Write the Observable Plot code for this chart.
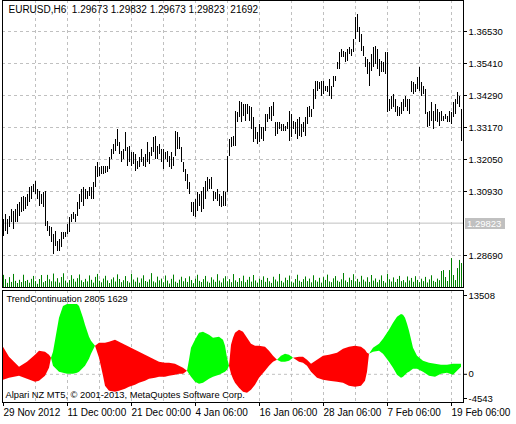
<!DOCTYPE html>
<html><head><meta charset="utf-8">
<script src="https://cdn.jsdelivr.net/npm/d3@7"></script>
<script src="https://cdn.jsdelivr.net/npm/@observablehq/plot@0.6"></script>
<style>
html,body{margin:0;padding:0;background:#fff;}
#wrap{position:relative;width:516px;height:424px;overflow:hidden;background:#fff;}
#wrap svg{position:absolute;left:0;}
#wrap svg text{white-space:pre;}
</style></head><body><div id="wrap"></div>
<script>
// ---------- data ----------
const titleText = "EURUSD,H6\u00a0 1.29673 1.29832 1.29673 1.29823\u00a0 21692";
const indName = "TrendContinuation 2805 1629";
const copyright = "Alpari NZ MT5, © 2001-2013, MetaQuotes Software Corp.";

const highs = [
1.29950,1.30125,1.29950,1.30055,1.30300,1.30230,1.30300,1.30475,1.30545,1.30720,
1.30755,1.30720,1.30825,1.31070,1.31105,1.31175,1.31280,1.31000,1.30930,1.30825,
1.30895,1.30930,1.29880,1.29705,1.29670,1.29425,1.29530,1.29180,1.29250,1.29495,
1.29495,1.29495,1.29775,1.30020,1.30125,1.30195,1.30125,1.30545,
1.30825,1.31000,1.31070,1.31000,1.30930,1.31070,1.31070,1.31245,1.31805,1.31945,
1.31770,1.31805,1.31805,1.31805,1.31805,1.32120,1.32400,1.32575,1.32750,1.33100,
1.32645,1.32330,1.32400,1.32995,1.32470,1.32505,1.32295,1.32295,1.32225,1.31980,
1.32120,1.32400,1.32120,1.32225,1.32645,1.32295,1.32470,1.32820,
1.32855,1.32505,1.32575,1.32400,1.32400,1.32295,1.32330,1.32155,1.32295,1.32120,
1.33030,1.32995,1.32820,1.32470,1.31945,1.31700,1.31525,1.31245,1.30545,1.30545,
1.30650,1.30895,1.30825,1.30930,1.31070,1.31280,1.31420,1.31350,1.31420,1.30930,
1.30895,1.31000,1.30825,1.30755,1.30930,1.30895,1.32155,1.32750,
1.32820,1.32855,1.33730,1.33695,1.34080,1.34045,1.33975,1.33975,1.33975,1.33905,
1.33870,1.33520,1.33170,1.32995,1.33275,1.33170,1.33170,1.33625,1.33625,1.33870,
1.33905,1.34045,1.33345,1.33345,1.33345,1.33275,1.33275,1.33205,1.33345,1.33730,
1.33625,1.33380,1.33345,1.33450,1.33520,1.33275,1.33345,1.33520,
1.33870,1.33905,1.33800,1.34500,1.34780,1.34780,1.34745,1.34780,1.34780,1.34605,
1.34605,1.34850,1.34605,1.34955,1.34955,1.35445,1.35795,1.35900,1.35830,1.35795,
1.35900,1.35970,1.35900,1.36250,1.37020,1.37125,1.36670,1.36425,1.36005,1.35620,
1.35550,1.35445,1.35725,1.35970,1.36005,1.35900,1.35550,1.35480,
1.35445,1.35795,1.35795,1.34150,1.34255,1.34325,1.34150,1.33905,1.33870,1.34045,
1.34150,1.34255,1.34150,1.34150,1.34780,1.34745,1.34675,1.34920,1.35270,1.34745,
1.34605,1.34500,1.33695,1.33730,1.34045,1.33730,1.33975,1.33800,1.33695,1.33730,
1.33555,1.33625,1.33555,1.33730,1.33695,1.34045,1.34150,1.34395,1.34255,1.33800];

const lows = [
1.29355,1.29530,1.29425,1.29670,1.29845,1.29600,1.29845,1.29845,1.30055,1.30195,
1.30230,1.30300,1.30405,1.30545,1.30650,1.30895,1.30825,1.30650,1.30405,1.30475,
1.30370,1.29705,1.29530,1.29355,1.29145,1.28725,1.29005,1.28830,1.28830,1.28970,
1.29250,1.29320,1.29425,1.29495,1.29845,1.29950,1.29845,1.30055,
1.30300,1.30545,1.30405,1.30650,1.30650,1.30755,1.30650,1.30650,1.31070,1.31420,
1.31455,1.31525,1.31525,1.31560,1.31595,1.31700,1.32050,1.32225,1.32330,1.32505,
1.32225,1.31945,1.32050,1.32330,1.31805,1.31945,1.31805,1.31875,1.31630,1.31700,
1.31770,1.31945,1.31805,1.31770,1.31945,1.31875,1.32155,1.32295,
1.32050,1.32050,1.32225,1.31945,1.31700,1.32050,1.31945,1.31770,1.31700,1.31805,
1.32155,1.32400,1.32400,1.31945,1.31595,1.31280,1.31000,1.30825,1.30195,1.30055,
1.30020,1.30230,1.30405,1.30195,1.30300,1.30650,1.30930,1.31000,1.31000,1.30580,
1.30650,1.30580,1.30405,1.30370,1.30405,1.30405,1.30895,1.32155,
1.32470,1.32505,1.32505,1.33345,1.33520,1.33345,1.33555,1.33380,1.33625,1.33380,
1.33100,1.32645,1.32750,1.32575,1.32645,1.32750,1.32680,1.33030,1.33345,1.33450,
1.33380,1.33555,1.32855,1.32925,1.33100,1.33030,1.33030,1.33030,1.33100,1.32680,
1.32820,1.33100,1.32925,1.32750,1.32855,1.32820,1.32995,1.32855,
1.33275,1.33520,1.33520,1.33800,1.34150,1.34430,1.34500,1.34255,1.34325,1.34430,
1.34395,1.34255,1.34150,1.34570,1.34780,1.35200,1.35200,1.35620,1.35620,1.35445,
1.35480,1.35725,1.35655,1.35795,1.36250,1.36495,1.36145,1.35830,1.35655,1.35270,
1.35025,1.34605,1.35130,1.35270,1.35375,1.35200,1.34955,1.35095,
1.35095,1.35025,1.33695,1.33730,1.33800,1.33870,1.33695,1.33555,1.33555,1.33625,
1.33730,1.33870,1.33730,1.33625,1.34395,1.34325,1.34395,1.34500,1.34430,1.34255,
1.34325,1.33625,1.33170,1.33205,1.33380,1.33100,1.33380,1.33345,1.33205,1.33380,
1.33380,1.33450,1.33345,1.33345,1.33275,1.33520,1.33625,1.33975,1.33870,1.32680];

const volumes = [
9100,5900,3100,7400,3800,9800,4600,3000,5400,3700,9200,4500,5300,3200,6100,8300,4400,2400,6000,9000,
3600,4500,9100,5800,4300,10100,4100,6600,3300,7500,10300,4800,3100,5200,8900,6100,4000,6600,9400,5000,
3700,6100,4200,8700,5400,3300,7600,9800,4700,3500,6300,8400,4900,3000,5800,7200,4100,9500,6000,3600,
5100,8200,4400,3300,9900,5600,4000,7100,3200,6400,8800,4500,3900,5700,10400,4200,3400,7800,5000,6300,
3500,8600,4800,2600,6100,9300,4000,3100,5500,7700,4300,6600,3800,8000,5200,2900,6200,9200,4600,3700,
5900,8300,4100,3200,7300,5500,3900,9600,4800,3400,6500,8100,4300,5900,3600,9700,5000,3800,6700,4400,
8500,3600,5400,7600,4000,9000,4900,3300,6200,5300,8000,3900,6800,4300,3100,7700,5600,4200,9800,4600,
3400,7000,5200,8600,4100,3300,6000,9200,4700,3800,5900,7900,4400,6300,3500,8800,5100,4000,6900,3300,
7400,5300,9300,4200,3600,6500,8200,4700,3900,5800,10500,4900,3700,7000,5200,9600,4300,6100,3900,8400,
5500,4100,7300,3800,9000,4800,6400,3600,5400,8700,4500,3300,9900,5800,4100,7200,3700,6000,8300,4400,
5200,3500,7900,4900,6800,3900,8100,5300,3600,6200,4400,7600,3400,5700,8800,4600,3800,6300,5100,
12000,12700,7500,4500,12700,21700,9000,5200,14200,20300,18000];

const priceTicks = [1.36530, 1.35410, 1.34290, 1.33170, 1.32050, 1.30930, 1.28690];
const lastPrice = 1.29823;
const gridIdx = [16,32,48,64,80,96,112,128,144,160,176,192,208,224];
const dateTickIdx = [0,32,64,96,128,160,192,224];
const dateTickLabels = ["29 Nov 2012","11 Dec 00:00","21 Dec 00:00","4 Jan 06:00","16 Jan 06:00","28 Jan 06:00","7 Feb 06:00","19 Feb 06:00"];

// indicator: two lines, filled green where line1 > line2, red otherwise
const indIdx = [0,3,8,12,16,18,21,23,24,
  25,28,30,32,35,37,38,40,41,43,44,46,
  48,50,51,53,56,58,61,63,66,68,71,73,76,78,81,83,86,88,90,92,
  93,94,96,98,100,103,105,108,110,111,112,113,
  114,115,116,118,120,122,124,126,128,131,133,135,137,
  139,141,143,145,
  148,150,152,154,157,160,163,167,170,173,176,179,181,182,183,
  185,188,190,193,195,197,199,200,201,202,203,205,207,210,213,216,219,222,225,227,229];
const indLine1 = [-966,-644,-322,-805,-1288,-1127,-322,966,2576,
  3542,9016,10948,11270,11270,11270,10948,9016,7889,5957,5313,4508,
  2576,-322,-1932,-2737,-2898,-2737,-2415,-2093,-1771,-1449,-1127,-805,-644,-483,-483,-322,-161,0,0,483,
  2254,4186,5474,6601,6762,6279,5796,5957,5474,4508,2576,1288,
  0,-805,-1449,-2254,-2898,-3059,-2576,-1771,-644,483,1288,1932,2254,
  2898,3220,3059,2576,
  1932,1771,1288,322,-644,-966,-1127,-1288,-1449,-1932,-2093,-1932,-1127,322,3220,
  4186,4830,5635,7084,8211,9177,9660,9499,9016,8050,6923,4186,2898,2093,1771,1610,1449,1449,1610,1610,1610];
const indLine2 = [4347,2737,1127,1932,3059,3703,3542,3059,2576,
  1288,322,161,0,0,161,322,966,1288,2415,3220,4508,
  4991,4991,4991,5152,5474,5152,4669,4347,3864,3542,3059,2737,2254,1932,1771,1771,1610,1288,966,483,
  0,-483,-1288,-1610,-1449,-805,-483,-161,161,322,644,1288,
  4669,5796,6601,7084,6762,5796,4830,4508,4508,4347,3703,2898,2254,
  1932,1932,2093,2576,
  2737,2737,2254,1610,2254,2898,3059,3381,4025,4347,4508,4347,3864,3381,3220,
  3542,3703,3220,1932,966,-161,-644,-483,-161,161,322,805,805,322,-322,-483,0,161,-161,483,1127];
const indTicks = [13508, 0, -4543];

// ---------- build ----------
const bars = highs.map((h, i) => ({i, high: h, low: lows[i]}));
const vols = volumes.map((v, i) => ({i, v}));
const ind = indIdx.map((x, k) => ({x, a: indLine1[k], b: indLine2[k]}));
const segments = [];
let cur = {sign: 0, pts: []};
for (const p of ind) {
  const s = Math.sign(p.a - p.b);
  if (s === 0) {
    cur.pts.push(p);
    segments.push(cur);
    cur = {sign: 0, pts: [p]};
  } else {
    if (cur.sign === 0) cur.sign = s;
    cur.pts.push(p);
  }
}
segments.push(cur);
const areaRows = segments.flatMap((sg, j) => sg.pts.map(p => ({...p, seg: j, up: sg.sign > 0})));

const FONT = "'Liberation Sans', Arial, sans-serif";
const W = 516;
const xOpt = {type: "linear", domain: [-0.5, 230], range: [2, 463], axis: null};
const grid = {stroke: "#c0c0c0", strokeDasharray: "3,3"};
const baseStyle = {fontFamily: FONT, fontSize: "10px", color: "#000", background: "transparent", overflow: "visible"};

const main = Plot.plot({
  width: W, height: 289, marginLeft: 2, marginRight: 53, marginTop: 0, marginBottom: 2,
  style: {...baseStyle, background: "#fff"},
  x: xOpt,
  y: {domain: [1.27570, 1.37615], axis: null},
  marks: [
    Plot.ruleX(gridIdx, grid),
    Plot.ruleY(priceTicks, grid),
    Plot.ruleY([lastPrice], {stroke: "#c0c0c0"}),
    Plot.ruleX(bars, {x: "i", y1: "low", y2: "high", stroke: "#000"}),
    Plot.frame({stroke: "#000"}),
    Plot.axisY(priceTicks, {anchor: "right", label: null, tickSize: 3, tickPadding: 2, fontSize: 9.5, tickFormat: d => d.toFixed(5), stroke: "#000"}),
    Plot.text([titleText], {frameAnchor: "top-left", dx: 6, dy: 9, lineAnchor: "middle", textAnchor: "start", fill: "#000"})
  ]
});
// price tag on the axis
const yTag = main.scale("y").apply(lastPrice);
const gTag = d3.select(main).append("g").attr("text-anchor", "start").attr("font-size", 9.5);
gTag.append("rect").attr("x", 465).attr("y", Math.round(yTag) - 5).attr("width", 40).attr("height", 11).attr("fill", "#c0c0c0");
gTag.append("text").attr("x", 467).attr("y", Math.round(yTag) + 0.5).attr("dy", "0.32em").attr("fill", "#fff").text(lastPrice.toFixed(5));
main.style.top = "0px";

const volPlot = Plot.plot({
  width: W, height: 30, marginLeft: 2, marginRight: 53, marginTop: 0, marginBottom: 0,
  style: baseStyle,
  x: xOpt,
  y: {domain: [0, 22500], axis: null},
  marks: [Plot.ruleX(vols, {x: "i", y1: 0, y2: "v", stroke: "#008000"})]
});
volPlot.style.top = "257px";

const indPlot = Plot.plot({
  width: W, height: 135, marginLeft: 2, marginRight: 53, marginTop: 1, marginBottom: 22,
  style: {...baseStyle, background: "#fff"},
  x: {...xOpt},
  y: {domain: [-4543, 13508], axis: null},
  marks: [
    Plot.ruleX(gridIdx, grid),
    Plot.ruleY([0], grid),
    Plot.areaY(areaRows.filter(d => d.up), {x: "x", y1: "a", y2: "b", z: "seg", fill: "#00ff00", curve: "linear"}),
    Plot.areaY(areaRows.filter(d => !d.up), {x: "x", y1: "a", y2: "b", z: "seg", fill: "#ff0000", curve: "linear"}),
    Plot.frame({stroke: "#000"}),
    Plot.text([indName], {frameAnchor: "top-left", dx: 4, dy: 9, lineAnchor: "middle", textAnchor: "start", fill: "#000", fontSize: 9.2}),
    Plot.text([copyright], {frameAnchor: "bottom-left", dx: 3, dy: -7, lineAnchor: "middle", textAnchor: "start", fill: "#000", fontSize: 9.3}),
    Plot.axisX(dateTickIdx, {anchor: "bottom", label: null, tickSize: 4, tickPadding: 2, textAnchor: "start", tickFormat: d => dateTickLabels[dateTickIdx.indexOf(d)], stroke: "#000"}),
    Plot.axisY([indTicks[1]], {anchor: "right", label: null, tickSize: 3, tickPadding: 2, fontSize: 9.5, stroke: "#000", tickFormat: d => String(d)}),
    Plot.axisY([indTicks[0]], {anchor: "right", label: null, tickSize: 3, tickPadding: 2, fontSize: 9.5, dy: 5, stroke: "#000", tickFormat: d => String(d)}),
    Plot.axisY([indTicks[2]], {anchor: "right", label: null, tickSize: 3, tickPadding: 2, fontSize: 9.5, dy: -4, stroke: "#000", tickFormat: d => String(d)})
  ]
});
indPlot.style.top = "289px";

const wrap = document.getElementById("wrap");
wrap.appendChild(main);
wrap.appendChild(volPlot);
wrap.appendChild(indPlot);
</script></body></html>
